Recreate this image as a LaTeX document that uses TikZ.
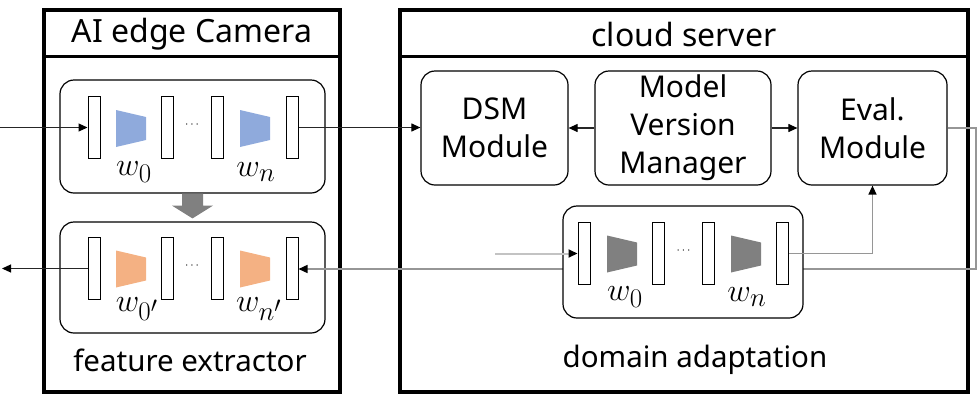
\documentclass[tikz,border=0pt]{standalone}
\usepackage{graphicx}
\usepackage[no-math]{fontspec}
\setmainfont{Noto Sans}
\usetikzlibrary{arrows.meta,calc}
\definecolor{blueT}{RGB}{143,170,220}
\definecolor{orangeT}{RGB}{244,177,131}
\definecolor{grayT}{RGB}{128,128,128}
\definecolor{lineGray}{RGB}{150,150,150}
\definecolor{lightGray}{RGB}{195,195,195}
\newcommand\wl[1]{\scalebox{1.3}{$#1$}}
\begin{document}
\begin{tikzpicture}[x=1pt,y=-1pt,
  outerbox/.style={draw=black,line width=4pt,minimum width=#1,minimum height=382pt,inner sep=0pt},
  pipebox/.style={draw=black,line width=1.2pt,rounded corners=14pt,minimum width=#1,inner sep=0pt},
  modbox/.style={draw=black,line width=1.2pt,rounded corners=14pt,minimum height=114pt,minimum width=#1,inner sep=0pt,align=center,font=\fontsize{30}{38}\selectfont},
  barbox/.style={draw=black,fill=white,line width=1pt,minimum width=12pt,minimum height=62pt,inner sep=0pt},
  trap/.pic={\path[pic actions] (-15,-18.5) -- (15,-11.5) -- (15,11.5) -- (-15,18.5) -- cycle;},
  wlab/.style={inner sep=0pt,font=\fontsize{24.88}{25}\selectfont},
  dots/.style={inner sep=0pt,font=\fontsize{12}{12}\selectfont},
  title/.style={inner sep=0pt,font=\fontsize{32}{32}\selectfont},
  caption/.style={inner sep=0pt,font=\fontsize{29.5}{30}\selectfont},
  tip/.style={-{Triangle[length=9pt,width=8pt,color=black]}},
  conn/.style={draw=black!85,line width=1.1pt,tip},
  gconn/.style={draw=lineGray,line width=1.4pt},
  lconn/.style={draw=lightGray,line width=2pt,tip}
]
\path[use as bounding box] (0,0) rectangle (978,400);

% outer boxes
\node[outerbox=296pt] (cam) at (192,201) {};
\node[outerbox=568pt] (cloud) at (684,201) {};
\draw[line width=3pt] (cam.west |- 0,56) -- (cam.east |- 0,56);
\draw[line width=3pt] (cloud.west |- 0,56) -- (cloud.east |- 0,56);
\node[title] (camt) at (192,34) {AI edge Camera};
\node[title] (cloudt) at (684,34) {cloud server};

\coordinate (rc1) at (976,128);
\coordinate (rc2) at (976,269);

% cloud modules
\node[modbox=147pt] (dsm) at (494.5,128) {DSM\\Module};
\node[modbox=176pt] (mvm) at (683,128) {Model\\Version\\Manager};
\node[modbox=149pt] (eval) at (872.5,128) {Eval.\\Module};

% top pipeline (camera)
\node[pipebox=265pt,minimum height=113pt] (pA) at (192.5,136.5) {};
\node[barbox] (a1) at (94,127.5) {};
\node[barbox] (a2) at (167.5,127.5) {};
\node[barbox] (a3) at (217,127.5) {};
\node[barbox] (a4) at (292,127.5) {};
\pic[fill=blueT] at (131,128.5) {trap};
\pic[fill=blueT] at (255,128.5) {trap};
\node[dots] (ad) at (192,125) {$\cdots$};
\node[wlab] (aw0) at (134,172) {\wl{w_0}};
\node[wlab] (awn) at (256,172) {\wl{w_n}};

% bottom pipeline (camera)
\node[pipebox=265pt,minimum height=111pt] (pB) at (192.5,277.5) {};
\node[barbox] (b1) at (94,268.5) {};
\node[barbox] (b2) at (167.5,268.5) {};
\node[barbox] (b3) at (217,268.5) {};
\node[barbox] (b4) at (292,268.5) {};
\pic[fill=orangeT] at (131,269) {trap};
\pic[fill=orangeT] at (255,269) {trap};
\node[dots] (bd) at (192,266) {$\cdots$};
\node[wlab] (bw0) at (137,309) {\wl{w_{0'}}};
\node[wlab] (bwn) at (259,309) {\wl{w_{n'}}};
\node[caption] (fe) at (190,360) {feature extractor};

% gray update arrow
\fill[grayT] ([xshift=-10.5pt]pA.south) -- ([xshift=10.5pt]pA.south)
  -- ([xshift=10.5pt,yshift=-12pt]pA.south) -- ([xshift=20.5pt,yshift=-12pt]pA.south)
  -- ([yshift=3pt]pB.north) -- ([xshift=-20.5pt,yshift=-12pt]pA.south)
  -- ([xshift=-10.5pt,yshift=-12pt]pA.south) -- cycle;

% return line: Eval -> right -> down -> left into camera
\draw[gconn,tip] (eval.east) -- (rc1) -- (rc2) -- (rc2 -| b4.east);

% domain adaptation pipeline (covers return line)
\node[pipebox=240pt,minimum height=112pt,fill=white] (pC) at (683,262) {};
\node[barbox] (c1) at (584,253.5) {};
\node[barbox] (c2) at (658,253.5) {};
\node[barbox] (c3) at (708.5,253.5) {};
\node[barbox] (c4) at (782.5,253.5) {};
\pic[fill=grayT] at (622,254) {trap};
\pic[fill=grayT] at (746,254) {trap};
\node[dots] (cd) at (683.5,251) {$\cdots$};
\node[wlab] (cw0) at (625,297) {\wl{w_0}};
\node[wlab] (cwn) at (747,297) {\wl{w_n}};
\node[caption] (da) at (695,360) {domain adaptation};

% connectors
\coordinate (inA) at (0,127.5);
\coordinate (outB) at (2,268.5);
\coordinate (inC) at (495,253.5);
\draw[conn] (inA) -- (a1.west);
\draw[conn] (a4.east) -- (a4.east -| dsm.west);
\draw[conn] (mvm.west) -- (dsm.east);
\draw[conn] (mvm.east) -- (eval.west);
\draw[conn] (b1.west) -- (outB);
\draw[lconn] (inC) -- (c1.west);
\draw[gconn,tip] (c4.east) -- (c4.east -| eval.south) -- (eval.south);
\end{tikzpicture}
\end{document}
